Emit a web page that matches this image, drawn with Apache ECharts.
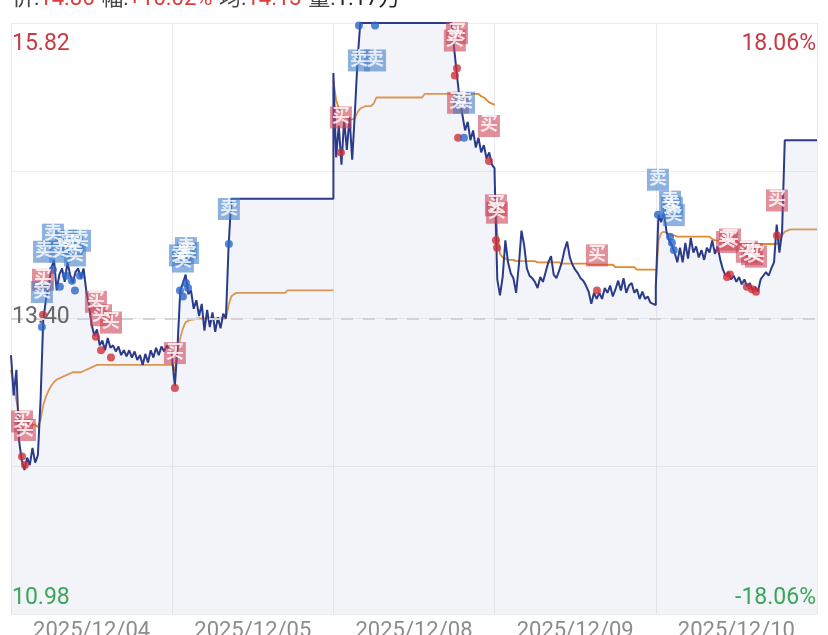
<!DOCTYPE html>
<html>
<head>
<meta charset="utf-8">
<script src="https://cdn.jsdelivr.net/npm/echarts@6/dist/echarts.min.js"></script>
<style>
html,body{margin:0;padding:0;background:#fff;}
#chart{width:828px;height:635px;}
</style>
</head>
<body>
<div id="chart"></div>
<script>
// ---- data ----
const DAYS = ['2025/12/04', '2025/12/05', '2025/12/08', '2025/12/09', '2025/12/10'];
const STEPS = 60; // sample intervals per trading day (4 min each)
const Y_MIN = 10.98;
const Y_MAX = 15.82;
const PREV_CLOSE = 13.40;
const HEADER = { price: '14.86', change: '+10.02%', avg: '14.13', vol: '1.17万' };

const day1Price = [13.10,12.77,12.98,12.40,12.24,12.16,12.26,12.20,12.34,12.22,
  12.28,12.73,13.39,13.55,13.67,13.81,13.88,13.63,13.76,13.81,
  13.70,13.86,13.76,13.69,13.78,13.81,13.73,13.81,13.63,13.51,
  13.35,13.26,13.31,13.18,13.22,13.14,13.24,13.16,13.18,13.13,
  13.17,13.10,13.14,13.09,13.14,13.08,13.13,13.06,13.10,13.02,
  13.11,13.04,13.14,13.08,13.16,13.10,13.17,13.13,13.18,13.14,
  13.11];
const day1Avg = [12.98,12.85,12.73,12.62,12.58,12.56,12.55,12.54,12.53,12.53,
  12.51,12.57,12.69,12.76,12.81,12.85,12.88,12.90,12.91,12.92,
  12.93,12.94,12.95,12.96,12.96,12.96,12.96,12.97,12.98,12.99,
  13.00,13.01,13.02,13.02,13.02,13.02,13.02,13.02,13.02,13.02,
  13.02,13.02,13.02,13.02,13.02,13.02,13.02,13.02,13.02,13.02,
  13.02,13.02,13.02,13.02,13.02,13.02,13.02,13.02,13.02,13.02,
  13.02];
const day2Price = [13.06,12.85,13.18,13.63,13.69,13.76,13.60,13.63,13.48,13.55,
  13.42,13.52,13.30,13.47,13.33,13.45,13.29,13.41,13.32,13.44,
  13.40,14.00,14.38,14.38,14.38,14.38,14.38,14.38,14.38,14.38,
  14.38,14.38,14.38,14.38,14.38,14.38,14.38,14.38,14.38,14.38,
  14.38,14.38,14.38,14.38,14.38,14.38,14.38,14.38,14.38,14.38,
  14.38,14.38,14.38,14.38,14.38,14.38,14.38,14.38,14.38,14.38,
  14.38];
const day2Avg = [13.03,12.97,13.14,13.24,13.32,13.37,13.38,13.39,13.39,13.40,
  13.40,13.40,13.40,13.40,13.40,13.40,13.40,13.40,13.40,13.40,
  13.40,13.51,13.58,13.60,13.61,13.61,13.61,13.61,13.61,13.61,
  13.61,13.61,13.61,13.61,13.61,13.61,13.61,13.61,13.61,13.61,
  13.61,13.61,13.61,13.63,13.63,13.63,13.63,13.63,13.63,13.63,
  13.63,13.63,13.63,13.63,13.63,13.63,13.63,13.63,13.63,13.63,
  13.63];
const day3Price = [15.41,14.72,14.98,14.66,15.03,14.78,15.05,14.70,15.09,15.52,
  15.82,15.82,15.82,15.82,15.82,15.82,15.82,15.82,15.82,15.82,
  15.82,15.82,15.82,15.82,15.82,15.82,15.82,15.82,15.82,15.82,
  15.82,15.82,15.82,15.82,15.82,15.82,15.82,15.82,15.82,15.82,
  15.82,15.82,15.82,15.82,15.82,15.60,15.39,15.19,15.07,14.94,
  15.01,14.86,14.94,14.80,14.88,14.76,14.82,14.71,14.76,14.66,
  14.63];
const day3Avg = [15.35,15.19,15.12,15.07,15.05,15.04,15.03,15.03,15.04,15.09,
  15.12,15.13,15.14,15.14,15.14,15.16,15.21,15.21,15.21,15.21,
  15.21,15.21,15.21,15.21,15.21,15.21,15.21,15.21,15.21,15.21,
  15.21,15.21,15.21,15.21,15.24,15.24,15.24,15.24,15.24,15.24,
  15.24,15.24,15.24,15.24,15.24,15.24,15.24,15.24,15.24,15.24,
  15.24,15.24,15.24,15.24,15.24,15.22,15.21,15.19,15.17,15.16,
  15.15];
const day4Price = [14.58,13.72,13.59,13.74,14.04,13.86,13.77,13.73,13.61,13.83,
  14.12,14.00,13.81,13.75,13.73,13.70,13.65,13.74,13.70,13.78,
  13.86,13.91,13.76,13.73,13.79,13.86,13.96,14.03,13.90,13.84,
  13.80,13.77,13.73,13.71,13.67,13.62,13.52,13.61,13.56,13.61,
  13.56,13.65,13.61,13.67,13.58,13.64,13.71,13.63,13.73,13.61,
  13.67,13.69,13.61,13.64,13.56,13.62,13.56,13.58,13.53,13.52,
  13.51];
const day4Avg = [14.45,14.10,13.93,13.90,13.89,13.88,13.88,13.88,13.87,13.87,
  13.87,13.87,13.87,13.87,13.87,13.87,13.86,13.86,13.86,13.86,
  13.86,13.86,13.86,13.86,13.86,13.85,13.85,13.85,13.85,13.85,
  13.85,13.85,13.85,13.85,13.85,13.84,13.84,13.84,13.84,13.84,
  13.84,13.84,13.84,13.84,13.84,13.82,13.82,13.82,13.82,13.82,
  13.82,13.82,13.82,13.80,13.80,13.80,13.80,13.80,13.80,13.80,
  13.80];
const day5Price = [13.66,14.25,14.19,14.27,14.11,14.04,14.00,13.94,13.86,13.98,
  13.86,14.02,13.89,14.06,13.94,13.99,13.90,13.96,13.88,13.98,
  13.94,14.04,13.93,13.99,13.88,13.80,13.75,13.78,13.72,13.75,
  13.70,13.74,13.68,13.72,13.66,13.69,13.63,13.66,13.62,13.72,
  13.75,13.78,13.75,13.81,13.86,14.17,13.94,14.11,14.86,14.86,
  14.86,14.86,14.86,14.86,14.86,14.86,14.86,14.86,14.86,14.86,
  14.86];
const day5Avg = [13.67,14.04,14.10,14.11,14.10,14.09,14.08,14.08,14.07,14.07,
  14.07,14.07,14.07,14.07,14.07,14.07,14.07,14.07,14.07,14.07,
  14.07,14.05,14.04,14.04,14.03,14.03,14.01,14.01,14.01,14.01,
  14.01,14.01,14.01,14.01,14.01,14.01,14.01,14.01,14.01,14.01,
  14.01,14.01,14.01,14.01,14.01,14.01,14.04,14.08,14.11,14.12,
  14.13,14.13,14.13,14.13,14.13,14.13,14.13,14.13,14.13,14.13,
  14.13];

// trade markers: [time position in sample units, trade price]
const buyTrades = [[4.1,12.27],[5.2,12.20],[11.9,13.43],[31.6,13.25],[33.5,13.14],[37.2,13.08],
  [61.0,12.83],[122.8,14.76],[165.2,15.39],[166.0,15.45],[166.4,14.88],[177.9,14.69],
  [180.5,14.04],[180.9,13.98],[218.1,13.63],[266.5,13.74],[267.6,13.76],[273.9,13.66],
  [275.8,13.64],[277.3,13.62],[285.1,14.08]];
const sellTrades = [[11.5,13.33],[12.3,13.66],[15.6,13.80],[18.2,13.66],[20.5,13.75],[22.7,13.71],
  [23.8,13.63],[25.7,13.75],[62.9,13.63],[64.0,13.58],[65.1,13.69],[65.9,13.65],[81.1,14.01],
  [129.5,15.80],[135.5,15.80],[168.6,14.88],[240.8,14.25],[245.3,14.07],[246.0,14.02],[246.7,13.96]];

// ---- build ----
const pricesByDay = [day1Price, day2Price, day3Price, day4Price, day5Price];
const avgByDay = [day1Avg, day2Avg, day3Avg, day4Avg, day5Avg];
const priceData = [];
pricesByDay.forEach((arr, d) => arr.forEach((v, i) => priceData.push([d * STEPS + i, v])));
const avgData = [];
avgByDay.forEach((arr, d) => {
  if (d > 0) avgData.push([d * STEPS, '-']);
  arr.forEach((v, i) => avgData.push([d * STEPS + i, v]));
});

const FONT = 'Roboto, "Noto Sans CJK SC", sans-serif';
const GRID = { left: 11, right: 11, top: 23, bottom: 21, containLabel: false, outerBoundsMode: 'none' };
const W = 828, H = 635;
const RED = '#c63a45', GREEN = '#3ba657';
const pct = ((Y_MAX / PREV_CLOSE - 1) * 100).toFixed(2);

function boxItems(list) {
  return list.map(p => ({
    value: p,
    symbolOffset: [0, p[1] > Y_MAX - 0.3 ? 35 : -35]
  }));
}

const chart = echarts.init(document.getElementById('chart'), null, { renderer: 'canvas' });
chart.setOption({
  animation: false,
  backgroundColor: '#ffffff',
  grid: GRID,
  xAxis: [
    { type: 'value', min: 0, max: STEPS * DAYS.length, show: false },
    {
      type: 'category', data: DAYS, position: 'bottom', boundaryGap: true,
      axisLine: { show: false }, axisTick: { show: false },
      axisLabel: { interval: 0, fontSize: 22, color: '#8c8c8c', margin: 6, fontFamily: FONT },
      splitLine: { show: true, interval: 0, lineStyle: { color: '#e8e9ee', width: 1 } }
    }
  ],
  yAxis: [
    { type: 'value', min: Y_MIN, max: Y_MAX, show: false },
    {
      type: 'value', min: 0, max: 4, interval: 1,
      axisLine: { show: false }, axisTick: { show: false }, axisLabel: { show: false },
      splitLine: { show: true, lineStyle: { color: '#ebecf0', width: 1.2 } }
    }
  ],
  graphic: [
    {
      type: 'text', left: 12, top: -12, silent: true,
      style: {
        text: '{k|价:}{v|' + HEADER.price + '}  {k|幅:}{v|' + HEADER.change + '}  {k|均:}{v|' + HEADER.avg + '}  {k|量:}{n|' + HEADER.vol + '}',
        rich: {
          k: { fontSize: 22, fill: '#444', fontFamily: FONT },
          v: { fontSize: 22, fill: '#e03a3a', fontFamily: FONT },
          n: { fontSize: 22, fill: '#222', fontFamily: FONT }
        }
      }
    },
    { type: 'text', left: GRID.left + 1, top: GRID.top + 10, silent: true, z: 100,
      style: { text: Y_MAX.toFixed(2), fontSize: 23, fill: RED, fontFamily: FONT } },
    { type: 'text', left: GRID.left + 1, top: (GRID.top + H - GRID.bottom) / 2 - 13, silent: true, z: 100,
      style: { text: PREV_CLOSE.toFixed(2), fontSize: 23, fill: '#666', fontFamily: FONT } },
    { type: 'text', left: GRID.left + 1, bottom: GRID.bottom + 4, silent: true, z: 100,
      style: { text: Y_MIN.toFixed(2), fontSize: 23, fill: GREEN, fontFamily: FONT } },
    { type: 'text', right: GRID.right + 1, top: GRID.top + 10, silent: true, z: 100,
      style: { text: pct + '%', fontSize: 23, fill: RED, fontFamily: FONT } },
    { type: 'text', right: GRID.right + 1, bottom: GRID.bottom + 4, silent: true, z: 100,
      style: { text: '-' + pct + '%', fontSize: 23, fill: GREEN, fontFamily: FONT } }
  ],
  series: [
    {
      name: 'price', type: 'line', xAxisIndex: 0, yAxisIndex: 0, data: priceData,
      symbol: 'none', silent: true,
      lineStyle: { color: '#2a3b8a', width: 2 },
      areaStyle: { color: 'rgba(196,203,226,0.30)', origin: 'start' },
      markLine: {
        silent: true, symbol: 'none', label: { show: false },
        lineStyle: { color: '#d3d4d8', width: 2, type: [12, 10] },
        data: [{ yAxis: PREV_CLOSE }]
      },
      z: 3
    },
    {
      name: 'avg', type: 'line', xAxisIndex: 0, yAxisIndex: 0, data: avgData,
      symbol: 'none', silent: true, connectNulls: false,
      lineStyle: { color: '#e0892e', width: 1.8 }, z: 2
    },
    {
      name: 'buyDot', type: 'scatter', xAxisIndex: 0, yAxisIndex: 0, data: buyTrades,
      symbolSize: 8, itemStyle: { color: '#d02f3a' }, z: 4, silent: true
    },
    {
      name: 'sellDot', type: 'scatter', xAxisIndex: 0, yAxisIndex: 0, data: sellTrades,
      symbolSize: 8, itemStyle: { color: '#2d66c8' }, z: 4, silent: true
    },
    {
      name: 'buyBox', type: 'scatter', xAxisIndex: 0, yAxisIndex: 0, data: boxItems(buyTrades),
      symbol: 'rect', symbolSize: 22, itemStyle: { color: 'rgba(205,68,88,0.75)' }, z: 5, silent: true,
      label: { show: true, position: 'inside', formatter: '买', color: '#fff', fontSize: 18, fontWeight: 'bold', fontFamily: FONT }
    },
    {
      name: 'sellBox', type: 'scatter', xAxisIndex: 0, yAxisIndex: 0, data: boxItems(sellTrades),
      symbol: 'rect', symbolSize: 22, itemStyle: { color: 'rgba(66,126,203,0.75)' }, z: 5, silent: true,
      label: { show: true, position: 'inside', formatter: '卖', color: '#fff', fontSize: 18, fontWeight: 'bold', fontFamily: FONT }
    }
  ]
});
</script>
</body>
</html>
